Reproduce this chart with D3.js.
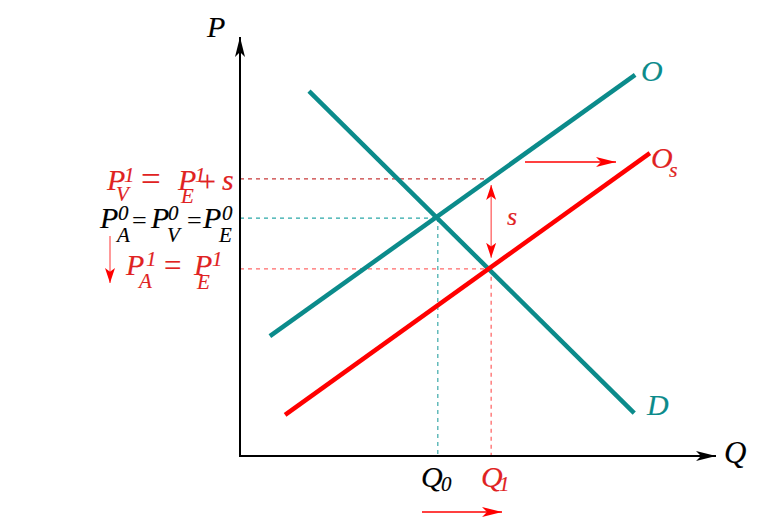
<!DOCTYPE html>
<html>
<head>
<meta charset="utf-8">
<script src="https://cdn.jsdelivr.net/npm/d3@7"></script>
<style>
  html, body { margin: 0; padding: 0; background: #fff; }
  svg { display: block; }
</style>
</head>
<body>
<svg id="chart" width="770" height="526"></svg>
<script>
// ---- data (arbitrary Q/P units 0..10) ----
const supplyO  = [{q: 0.65, p: 2.88}, {q: 8.59, p: 9.16}];   // O
const demandD  = [{q: 1.50, p: 8.77}, {q: 8.57, p: 1.03}];   // D
const supplyOs = [{q: 0.98, p: 0.99}, {q: 8.91, p: 7.28}];   // O_s
const eq0 = {q: 4.30, p: 5.72};   // Q0, P_A^0 = P_V^0 = P_E^0
const eq1 = {q: 5.46, p: 4.50};   // Q1, P_A^1 = P_E^1
const pV1 = 6.66;                 // P_V^1 = P_E^1 + s

const svg = d3.select("#chart");
const x = d3.scaleLinear().domain([0, 10]).range([240, 700]);
const y = d3.scaleLinear().domain([0, 10]).range([456, 40]);

const TEAL = "#0b8b8b", RED = "#ff0000", LRED = "#e02222";
const FONT = "'Liberation Serif', 'Times New Roman', serif";

// markers
const defs = svg.append("defs");
function marker(id, color, len, half) {
  defs.append("marker").attr("id", id)
    .attr("markerUnits", "userSpaceOnUse")
    .attr("viewBox", `0 ${-half} ${len} ${2*half}`)
    .attr("refX", len).attr("refY", 0)
    .attr("markerWidth", len).attr("markerHeight", 2*half)
    .attr("orient", "auto-start-reverse")
    .append("path")
    .attr("d", `M0,${-half} L${len},0 L0,${half} L${len*0.25},0 Z`)
    .attr("fill", color);
}
marker("axArrow", "#000", 20, 5);
marker("redArrow", RED, 20, 5);
marker("redArrowS", RED, 15, 5);

// dashed guide lines
const dash = svg.append("g").attr("fill", "none").attr("stroke-width", 1.3).attr("stroke-dasharray", "4,4");
dash.append("line").attr("x1", x(0)).attr("x2", x(eq1.q)).attr("y1", y(pV1)).attr("y2", y(pV1)).attr("stroke", "#c83a3a");
dash.append("line").attr("x1", x(0)).attr("x2", x(eq0.q)).attr("y1", y(eq0.p)).attr("y2", y(eq0.p)).attr("stroke", "#2aa8a8");
dash.append("line").attr("x1", x(eq0.q)).attr("x2", x(eq0.q)).attr("y1", y(eq0.p)).attr("y2", y(0)).attr("stroke", "#4ab0b0");
dash.append("line").attr("x1", x(0)).attr("x2", x(eq1.q)).attr("y1", y(eq1.p)).attr("y2", y(eq1.p)).attr("stroke", "#ff6a6a");
dash.append("line").attr("x1", x(eq1.q)).attr("x2", x(eq1.q)).attr("y1", y(eq1.p)).attr("y2", y(0)).attr("stroke", "#ff6a6a");

// curves
const line = d3.line().x(d => x(d.q)).y(d => y(d.p));
[[supplyO, TEAL], [demandD, TEAL], [supplyOs, RED]].forEach(([d, c]) => {
  svg.append("path").datum(d).attr("d", line)
    .attr("fill", "none").attr("stroke", c).attr("stroke-width", 4.5);
});

// axes
svg.append("line").attr("x1", x(0)).attr("y1", y(0) + 1).attr("x2", x(0)).attr("y2", 37)
  .attr("stroke", "#000").attr("stroke-width", 2).attr("marker-end", "url(#axArrow)");
svg.append("line").attr("x1", x(0) - 1).attr("y1", y(0)).attr("x2", 716).attr("y2", y(0))
  .attr("stroke", "#000").attr("stroke-width", 2).attr("marker-end", "url(#axArrow)");

// shift arrows
svg.append("line").attr("x1", 525).attr("y1", 162).attr("x2", 616).attr("y2", 162)
  .attr("stroke", RED).attr("stroke-width", 1.3).attr("marker-end", "url(#redArrow)");
svg.append("line").attr("x1", 422).attr("y1", 512).attr("x2", 502).attr("y2", 512)
  .attr("stroke", RED).attr("stroke-width", 1.3).attr("marker-end", "url(#redArrow)");
// s double arrow
svg.append("line").attr("x1", x(eq1.q)).attr("x2", x(eq1.q))
  .attr("y1", y(pV1) + 6).attr("y2", y(eq1.p) - 11)
  .attr("stroke", "#ff5555").attr("stroke-width", 1.2)
  .attr("marker-start", "url(#redArrowS)").attr("marker-end", "url(#redArrowS)");
// down arrow on left
svg.append("line").attr("x1", 110).attr("x2", 110).attr("y1", 236).attr("y2", 283)
  .attr("stroke", "#ff5555").attr("stroke-width", 1.2).attr("marker-end", "url(#redArrowS)");

// text helper
function t(str, px, py, size, color, style) {
  svg.append("text").attr("x", px).attr("y", py)
    .attr("font-family", FONT).attr("font-size", size)
    .attr("font-style", style || "italic")
    .attr("fill", color).attr("stroke", color).attr("stroke-width", 0.15)
    .text(str);
}
const B = 30, S = 21;

// axis labels
t("P", 207, 37, B, "#000");
t("Q", 724, 463, 31, "#000");
// curve labels
t("O", 641, 81, B, TEAL);
t("O", 651, 168, B, LRED);
t("s", 669, 177, 22, LRED);
t("D", 647, 415, B, TEAL);
t("s", 507, 225, 26, LRED);
// Q labels
t("Q", 421, 487, B, "#000");
t("0", 441, 491, S, "#000");
t("Q", 481, 487, B, LRED);
t("1", 499, 491, S, LRED);

// left price labels
// line 1: P_V^1 = P_E^1 + s
t("P", 107, 190, B, LRED); t("1", 124, 182, S, LRED); t("V", 116, 201, S, LRED);
t("=", 141, 191, 35, LRED, "normal");
t("P", 178, 190, B, LRED); t("E", 181, 203, S, LRED); t("1", 195, 182, S, LRED);
t("+", 199, 191, 30, LRED, "normal");
t("s", 222, 190, B, LRED);
// line 2: P_A^0=P_V^0=P_E^0
t("P", 100, 228, B, "#000"); t("0", 118, 220, S, "#000"); t("A", 117, 242, S, "#000");
t("=", 132, 229, 26, "#000", "normal");
t("P", 151, 228, B, "#000"); t("0", 168, 220, S, "#000"); t("V", 167, 242, S, "#000");
t("=", 187, 229, 26, "#000", "normal");
t("P", 203, 228, B, "#000"); t("0", 222, 220, S, "#000"); t("E", 219, 242, S, "#000");
// line 3: P_A^1 = P_E^1
t("P", 126, 275, B, LRED); t("1", 146, 266, S, LRED); t("A", 139, 288, S, LRED);
t("=", 164, 276, 31, LRED, "normal");
t("P", 194, 275, B, LRED); t("E", 197, 289, S, LRED); t("1", 212, 266, S, LRED);
</script>
</body>
</html>
